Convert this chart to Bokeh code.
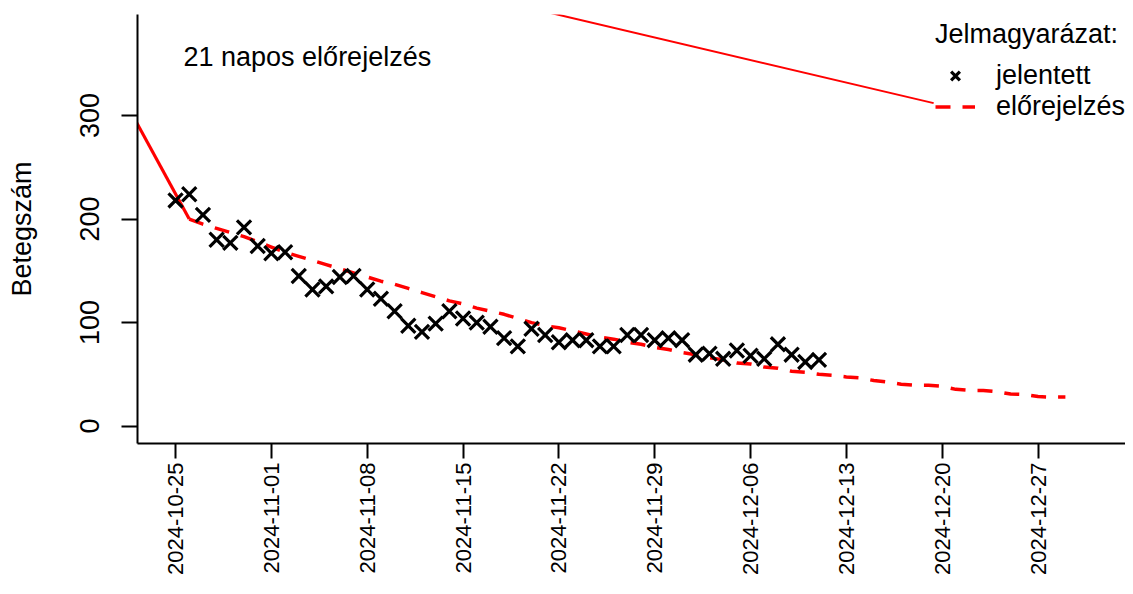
import pandas as pd
from bokeh.plotting import figure
from bokeh.models import Range1d, FixedTicker, DatetimeTickFormatter, Legend, LegendItem, Label
from bokeh.embed import file_html
from bokeh.resources import INLINE
import math

# ---- data ----
obs_start = "2024-10-25"
obs_values = [218, 224, 204, 180, 177, 192, 174,
              167, 168, 145, 132, 135, 144, 145, 132, 123, 111, 97, 91, 99, 111,
              104, 100, 96, 85, 77, 94, 88, 81, 83, 83, 77, 77, 88, 88, 83, 85,
              83, 69, 70, 65, 73, 68, 65, 79, 69, 62, 64]

fc_start = "2024-10-26"
fc_values = [200, 195, 191, 187, 183, 178, 173, 168, 164, 160, 156, 152, 148, 144,
             140, 137, 133, 129, 125, 121, 118, 114, 111, 108, 104, 100, 97, 95,
             92, 89, 86, 84, 81, 79, 76, 74, 71, 69, 66, 64, 61, 60, 57, 56, 53,
             52, 50, 49, 47.5, 46.5, 44, 42.5, 40.5, 39.5, 39.5, 38.5, 35.5, 34.5,
             34.5, 33.3, 31, 30.5, 28.5, 28, 28]

fit_dates = ["2024-10-22T00:00", "2024-10-26T00:00"]
fit_values = [297, 200]

extra_dates = ["2024-11-15T00:00", "2024-12-19T09:00"]
extra_values = [419, 312]

tick_dates = ["2024-10-25", "2024-11-01", "2024-11-08", "2024-11-15", "2024-11-22",
              "2024-11-29", "2024-12-06", "2024-12-13", "2024-12-20", "2024-12-27"]
y_ticks = [0, 100, 200, 300]

title_text = "21 napos előrejelzés"
legend_title = "Jelmagyarázat:"
legend_labels = ["jelentett", "előrejelzés"]
y_label = "Betegszám"

obs_dates = pd.date_range(obs_start, periods=len(obs_values), freq="D")
fc_dates = pd.date_range(fc_start, periods=len(fc_values), freq="D")

def ms(s):
    return pd.Timestamp(s).value / 1e6

DAY = 86400000.0
x0 = ms(obs_start)

FONT = "Liberation Sans"

p = figure(width=1125, height=578, x_axis_type="datetime",
           output_backend="svg", toolbar_location=None,
           x_range=Range1d(x0 - 2.78 * DAY, x0 + 69.39 * DAY),
           y_range=Range1d(-16.8, 397.6),
           min_border_left=137, min_border_top=14, min_border_right=0,
           min_border_bottom=0)
p.outline_line_color = None
p.grid.visible = False
p.background_fill_color = "white"

# lines
p.line([pd.Timestamp(d) for d in fit_dates], fit_values, line_color="#ff0000", line_width=3.2)
p.line([pd.Timestamp(d) for d in extra_dates], extra_values, line_color="#ff0000", line_width=2)
fc = p.line(fc_dates, fc_values, line_color="#ff0000", line_width=3.5, line_dash="15 12")
pts = p.scatter(obs_dates, obs_values, marker="x", size=20, line_color="black", line_width=3.2)

# axes
xa = p.xaxis[0]
xa.ticker = FixedTicker(ticks=[ms(d) for d in tick_dates])
xa.formatter = DatetimeTickFormatter(days="%Y-%m-%d", months="%Y-%m-%d", years="%Y-%m-%d")
xa.major_label_orientation = math.pi / 2
xa.major_label_text_font = FONT
xa.major_label_text_font_size = "22px"
xa.major_label_text_color = "black"
xa.major_label_standoff = 4
xa.major_tick_out = 15
xa.major_tick_in = 0
xa.minor_tick_out = 0
xa.minor_tick_in = 0
xa.axis_line_width = 2
xa.major_tick_line_width = 2
xa.axis_line_color = "black"
xa.major_tick_line_color = "black"

ya = p.yaxis[0]
ya.ticker = FixedTicker(ticks=y_ticks)
ya.major_label_orientation = "vertical"
ya.major_label_text_font = FONT
ya.major_label_text_font_size = "27px"
ya.major_label_text_color = "black"
ya.major_label_standoff = 22
ya.major_tick_out = 16
ya.major_tick_in = 0
ya.minor_tick_out = 0
ya.minor_tick_in = 0
ya.axis_line_width = 2
ya.major_tick_line_width = 2
ya.axis_line_color = "black"
ya.major_tick_line_color = "black"
ya.axis_label = y_label
ya.axis_label_text_font = FONT
ya.axis_label_text_font_size = "27px"
ya.axis_label_text_font_style = "normal"
ya.axis_label_text_color = "black"
ya.axis_label_standoff = 41

# text in plot
p.add_layout(Label(x=x0 + 0.58 * DAY, y=357, text=title_text, text_font=FONT,
                   text_font_size="27px", text_color="black",
                   text_baseline="alphabetic", text_align="left"))

legend = Legend(items=[LegendItem(label=legend_labels[0], renderers=[pts]),
                       LegendItem(label=legend_labels[1], renderers=[fc])],
                location=(798, 321), title=legend_title,
                title_text_font=FONT, title_text_font_size="27px",
                title_text_font_style="normal", title_text_color="black",
                label_text_font=FONT, label_text_font_size="27px",
                label_text_color="black",
                border_line_color=None, background_fill_alpha=0,
                glyph_width=40, glyph_height=31, label_height=31,
                label_standoff=21, padding=0, margin=0, spacing=0,
                title_standoff=10)
p.add_layout(legend)

open("out.html", "w").write(file_html(p, INLINE))
